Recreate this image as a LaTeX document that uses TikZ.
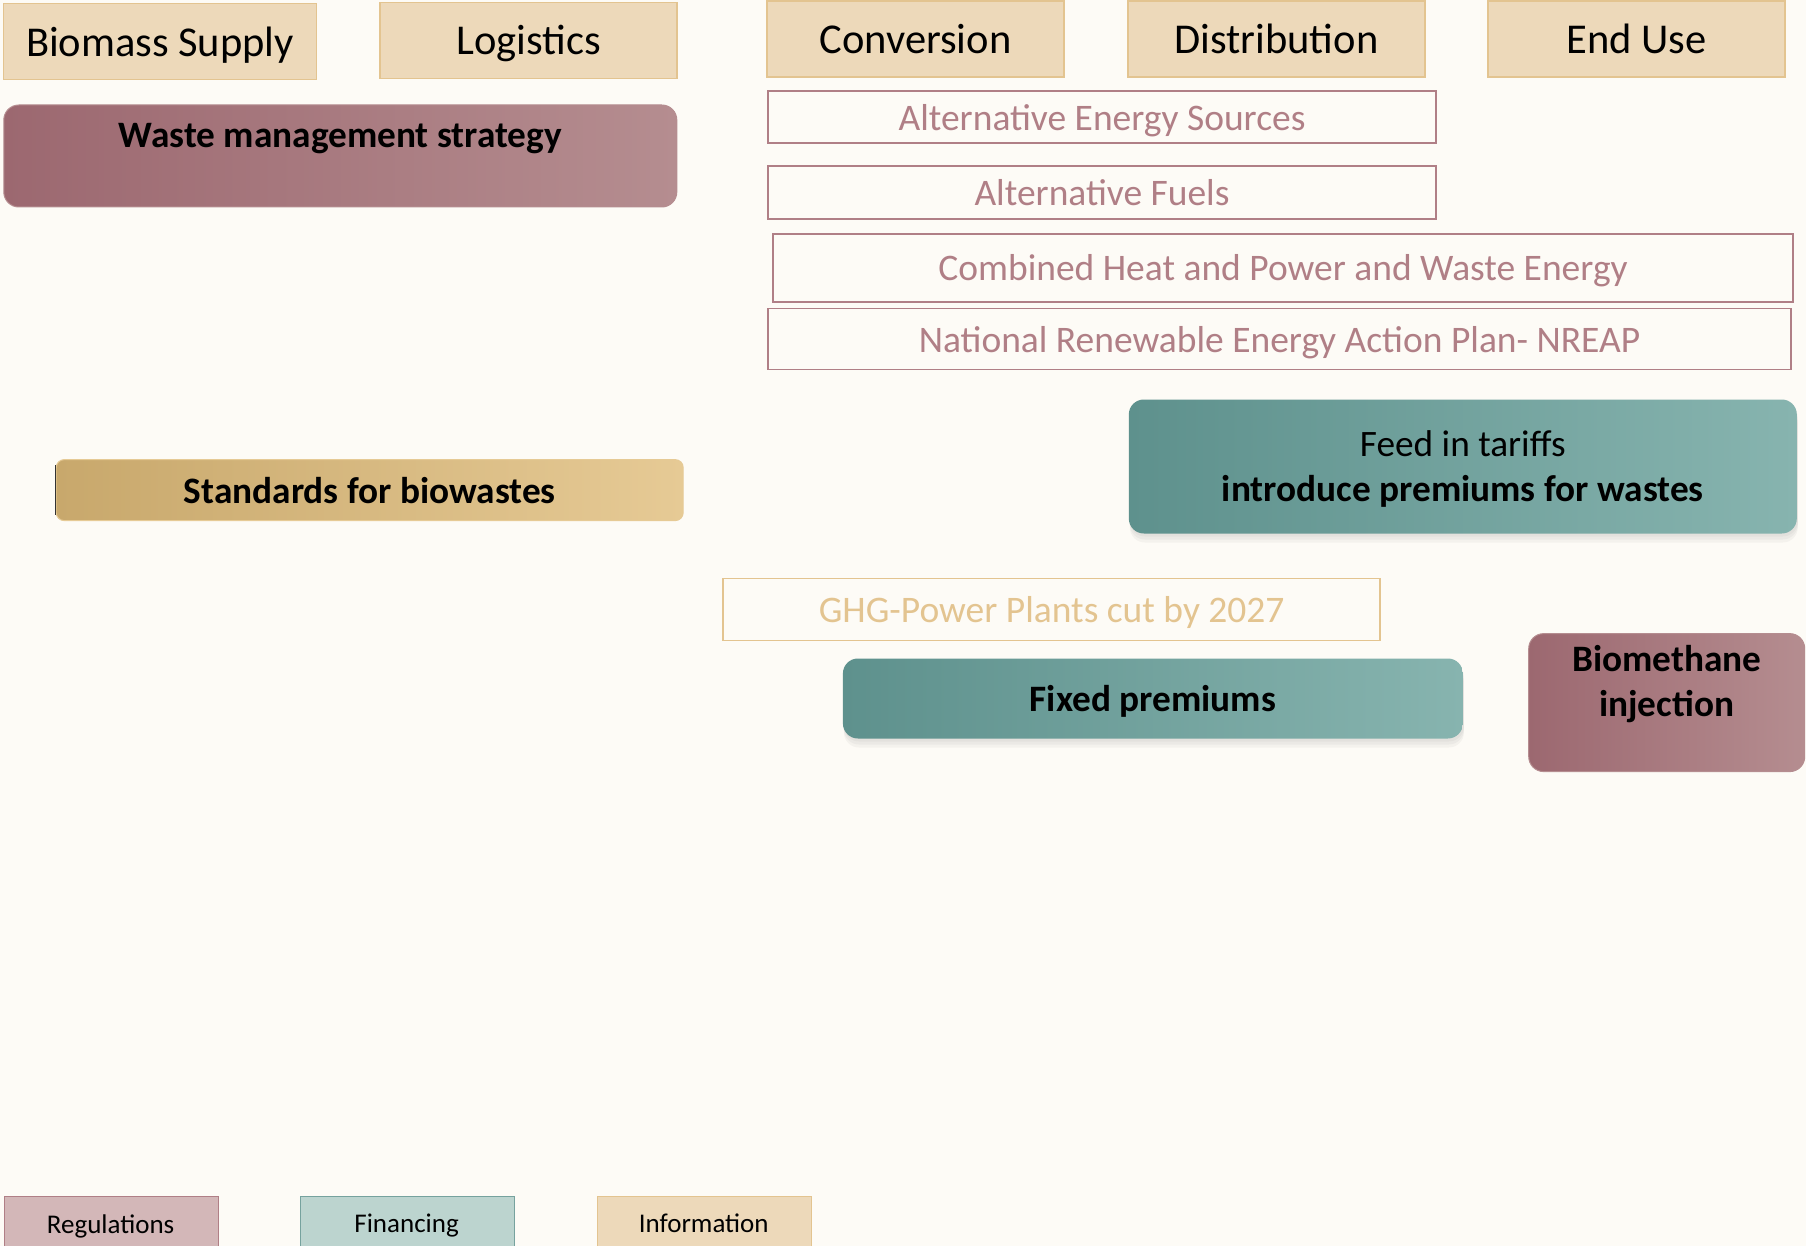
\documentclass[tikz,border=0pt]{standalone}
\usepackage{fontspec}
\setmainfont{Carlito}
\usetikzlibrary{shadows}

\definecolor{paper}{HTML}{FDFBF6}
\definecolor{sand}{HTML}{EDD9BA}
\definecolor{sandline}{HTML}{E3C490}
\definecolor{mauve}{HTML}{B07F86}
\definecolor{mauvedark}{HTML}{9C6870}
\definecolor{mauvelight}{HTML}{B58D90}
\definecolor{tealdark}{HTML}{5E918D}
\definecolor{teallight}{HTML}{87B4AF}
\definecolor{golddark}{HTML}{C8A86C}
\definecolor{goldlight}{HTML}{E6CA95}

\begin{document}
\begin{tikzpicture}[
  x=1pt, y=-1pt,
  every node/.style={inner sep=0pt, align=center, text=black, text depth=0pt},
  header/.style={draw=sandline, line width=1.5pt, fill=sand, font=\fontsize{42.5}{50}\selectfont},
  outline/.style={draw=mauve, line width=1.5pt, fill=paper, text=mauve, font=\fontsize{37.5}{44}\selectfont},
  regbox/.style={rounded corners=15pt, left color=mauvedark, right color=mauvelight, draw=mauvelight, line width=1pt},
  finbox/.style={rounded corners=15pt, left color=tealdark, right color=teallight, draw=none,
    drop shadow={opacity=0.07, shadow xshift=1pt, shadow yshift=-3pt},
    drop shadow={opacity=0.07, shadow xshift=1pt, shadow yshift=-6pt},
    drop shadow={opacity=0.07, shadow xshift=1pt, shadow yshift=-9pt}},
  infobox/.style={rounded corners=8pt, left color=golddark, right color=goldlight, draw=goldlight, line width=1pt},
  boldtext/.style={font=\fontsize{37.3}{45}\selectfont\bfseries},
  legend/.style={line width=1.5pt, minimum width=214pt, minimum height=64pt},
  legendtext/.style={font=\fontsize{27}{32}\selectfont}
  ]

\useasboundingbox (0,0) rectangle (1806,1246);
\fill[paper] (0,0) rectangle (1806,1246);

% value chain headers
\node[header, minimum width=313pt, minimum height=76pt] (biomass) at (160,41.5) {Biomass Supply};
\node[header, minimum width=297pt, minimum height=76pt] (logistics) at (528.5,40.3) {Logistics};
\node[header, minimum width=297pt, minimum height=76pt] (conversion) at (915.5,39.2) {Conversion};
\node[header, minimum width=297pt, minimum height=76pt] (distribution) at (1276.5,39.2) {Distribution};
\node[header, minimum width=297pt, minimum height=76pt] (enduse) at (1636.5,39.2) {End Use};

% regulations
\node[regbox, minimum width=673pt, minimum height=102pt] (waste) at (340.3,156) {};
\node[boldtext] (wastetxt) at (340.3,135.5) {Waste management strategy};

\node[outline, minimum width=668pt, minimum height=52pt] (aes) at (1102,117) {Alternative Energy Sources};
\node[outline, minimum width=668pt, minimum height=53pt] (altfuels) at (1102,192.4) {Alternative Fuels};
\node[outline, minimum width=1020pt, minimum height=68pt] (chp) at (1283,267.8) {Combined Heat and Power and Waste Energy};
\node[outline, minimum width=1023pt, minimum height=61pt] (nreap) at (1279.5,339.2) {National Renewable Energy Action Plan- NREAP};

\node[regbox, minimum width=276pt, minimum height=138pt] (biometh) at (1666.7,702.6) {};
\node[boldtext] (biomethtxt) at (1666.7,680.5) {Biomethane\\injection};

% financing
\node[finbox, minimum width=668pt, minimum height=134pt, font=\fontsize{37.3}{45}\selectfont] (feedin) at (1462.8,466.5)
  {Feed in tariffs\\\textbf{introduce premiums for wastes}};
\node[finbox, boldtext, minimum width=620pt, minimum height=80pt] (fixed) at (1152.9,698.5) {Fixed premiums};

% information
\node[infobox, boldtext, minimum width=627pt, minimum height=61pt] (standards) at (369.7,490.1) {Standards for biowastes};
\draw[black!80, line width=1.5pt] ([yshift=-6pt]standards.north west) -- ([yshift=6pt]standards.south west);
\node[outline, draw=sandline, text=sandline, minimum width=657pt, minimum height=62pt] (ghg) at (1051.6,609.3) {GHG-Power Plants cut by 2027};

% legend
\node[legend, draw=mauve, fill=mauve!55!paper, anchor=north west] (regulations) at (3.5,1195.6) {};
\node[legend, draw=tealdark!85, fill=teallight!55!paper, anchor=north west] (financing) at (299.5,1195.6) {};
\node[legend, draw=sandline, fill=sand, anchor=north west] (information) at (596.6,1195.6) {};
\node[legendtext] (regtxt) at (110.6,1224) {Regulations};
\node[legendtext] (fintxt) at (406.6,1223.5) {Financing};
\node[legendtext] (infotxt) at (703.7,1223) {Information};
\end{tikzpicture}
\end{document}
